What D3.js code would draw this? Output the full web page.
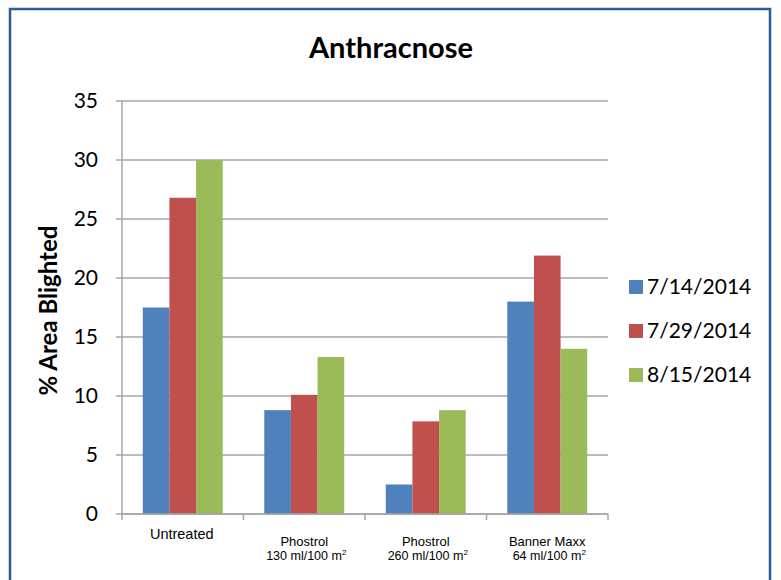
<!DOCTYPE html>
<html>
<head>
<meta charset="utf-8">
<script src="https://cdn.jsdelivr.net/npm/d3@7"></script>
<style>
  body { margin: 0; background: #fff; }
  svg { display: block; }
</style>
</head>
<body>
<div id="chart"></div>
<script>
// Data
const treatments = ["Untreated", "Phostrol 130", "Phostrol 260", "Banner Maxx"];
const labelLine1 = ["Untreated", "Phostrol", "Phostrol", "Banner Maxx"];
const labelLine2 = ["", "130 ml/100 m", "260 ml/100 m", "64 ml/100 m"];
const dates = ["7/14/2014", "7/29/2014", "8/15/2014"];
const july14 = [17.5, 8.8, 2.5, 18.0];
const july29 = [26.8, 10.1, 7.85, 21.9];
const aug15 = [30.0, 13.3, 8.8, 14.0];
const yTicks = [0, 5, 10, 15, 20, 25, 30, 35];

const colours = ["#4F81BD", "#C0504D", "#9BBB59"];

const width = 781;
const height = 580;
const margin = {top: 101, left: 122, right: 173, bottom: 66};
const innerWidth = width - margin.left - margin.right;
const innerHeight = height - margin.top - margin.bottom;

const svg = d3.select("#chart")
  .append("svg")
    .attr("width", width)
    .attr("height", height);

// Outer frame (bottom edge runs off the page, as in the original)
svg.append("path")
  .attr("d", "M10,580 V9 H770 V580")
  .attr("fill", "none")
  .attr("stroke", "#2A5E98")
  .attr("stroke-width", 2.5);

const innerChart = svg.append("g")
  .attr("transform", `translate(${margin.left}, ${margin.top})`);

// Scales
const xScale = d3.scaleBand()
  .domain(treatments)
  .range([0, innerWidth]);
const xSub = d3.scaleBand()
  .domain(dates)
  .range([0, xScale.bandwidth()])
  .paddingInner(0)
  .paddingOuter(0.78);
const yScale = d3.scaleLinear()
  .domain([0, 35])
  .range([innerHeight, 0]);

// Gridlines + y ticks
innerChart.append("g")
  .attr("class", "grid")
  .selectAll("line")
  .data(yTicks)
  .join("line")
    .attr("x1", -6)
    .attr("x2", innerWidth)
    .attr("y1", d => yScale(d))
    .attr("y2", d => yScale(d))
    .attr("stroke", "#A6A6A6")
    .attr("stroke-width", 1.5);

// Y axis line
innerChart.append("line")
  .attr("x1", 0).attr("x2", 0)
  .attr("y1", 0).attr("y2", innerHeight)
  .attr("stroke", "#A6A6A6")
  .attr("stroke-width", 1.5);

// Y tick labels
innerChart.append("g")
  .selectAll("text")
  .data(yTicks)
  .join("text")
    .attr("x", -24)
    .attr("y", d => yScale(d))
    .attr("dy", "0.35em")
    .attr("text-anchor", "end")
    .style("font-family", "Lato, 'Open Sans', sans-serif")
    .style("font-size", "21px")
    .attr("fill", "#000")
    .text(d => d);

// Bars
const series = [july14, july29, aug15];
dates.forEach((date, i) => {
  innerChart.append("g")
    .selectAll("rect")
    .data(treatments)
    .join("rect")
      .attr("x", (t) => xScale(t) + xSub(date))
      .attr("y", (t, j) => yScale(series[i][j]))
      .attr("width", xSub.bandwidth())
      .attr("height", (t, j) => innerHeight - yScale(series[i][j]))
      .attr("fill", colours[i]);
});

// X axis line and category ticks
innerChart.append("line")
  .attr("x1", 0).attr("x2", innerWidth)
  .attr("y1", innerHeight).attr("y2", innerHeight)
  .attr("stroke", "#A6A6A6")
  .attr("stroke-width", 1.5);
const boundaries = treatments.map(t => xScale(t)).concat([innerWidth]);
innerChart.append("g")
  .selectAll("line")
  .data(boundaries)
  .join("line")
    .attr("x1", d => d).attr("x2", d => d)
    .attr("y1", innerHeight).attr("y2", innerHeight + 6)
    .attr("stroke", "#A6A6A6")
    .attr("stroke-width", 1.5);

// X labels
const xLabels = innerChart.append("g")
  .style("font-family", "'Liberation Sans', Arial, sans-serif")
  .attr("fill", "#000");
treatments.forEach((t, i) => {
  const cx = xScale(t) + xScale.bandwidth() / 2;
  if (labelLine2[i] === "") {
    xLabels.append("text")
      .attr("x", cx - 1)
      .attr("y", innerHeight + 25)
      .attr("text-anchor", "middle")
      .style("font-size", "14.5px")
      .text(labelLine1[i]);
  } else {
    xLabels.append("text")
      .attr("x", cx)
      .attr("y", innerHeight + 32)
      .attr("text-anchor", "middle")
      .style("font-size", "13px")
      .text(labelLine1[i]);
    const line2 = xLabels.append("text")
      .attr("x", cx + 2)
      .attr("y", innerHeight + 46)
      .attr("text-anchor", "middle")
      .style("font-size", "12.5px");
    line2.append("tspan").text(labelLine2[i]);
    line2.append("tspan")
      .attr("dy", -5)
      .style("font-size", "8px")
      .text("2");
  }
});

// Title
svg.append("text")
  .attr("x", 391)
  .attr("y", 58)
  .attr("text-anchor", "middle")
  .style("font-family", "Lato, 'Open Sans', sans-serif")
  .style("font-size", "29px")
  .style("font-weight", "bold")
  .text("Anthracnose");

// Y axis title
svg.append("text")
  .attr("transform", `translate(57, ${margin.top + innerHeight / 2 + 3}) rotate(-90)`)
  .attr("text-anchor", "middle")
  .style("font-family", "Lato, 'Open Sans', sans-serif")
  .style("font-size", "24px")
  .style("font-weight", "bold")
  .text("% Area Blighted");

// Legend
const legend = svg.append("g")
  .attr("transform", "translate(629, 287)");
dates.forEach((date, i) => {
  const row = legend.append("g")
    .attr("transform", `translate(0, ${i * 44})`);
  row.append("rect")
    .attr("x", 0)
    .attr("y", -7)
    .attr("width", 14)
    .attr("height", 14)
    .attr("fill", colours[i]);
  row.append("text")
    .attr("x", 18)
    .attr("y", 0)
    .attr("dy", "0.35em")
    .style("font-family", "Lato, 'Open Sans', sans-serif")
    .style("font-size", "21px")
    .text(date);
});
</script>
</body>
</html>
